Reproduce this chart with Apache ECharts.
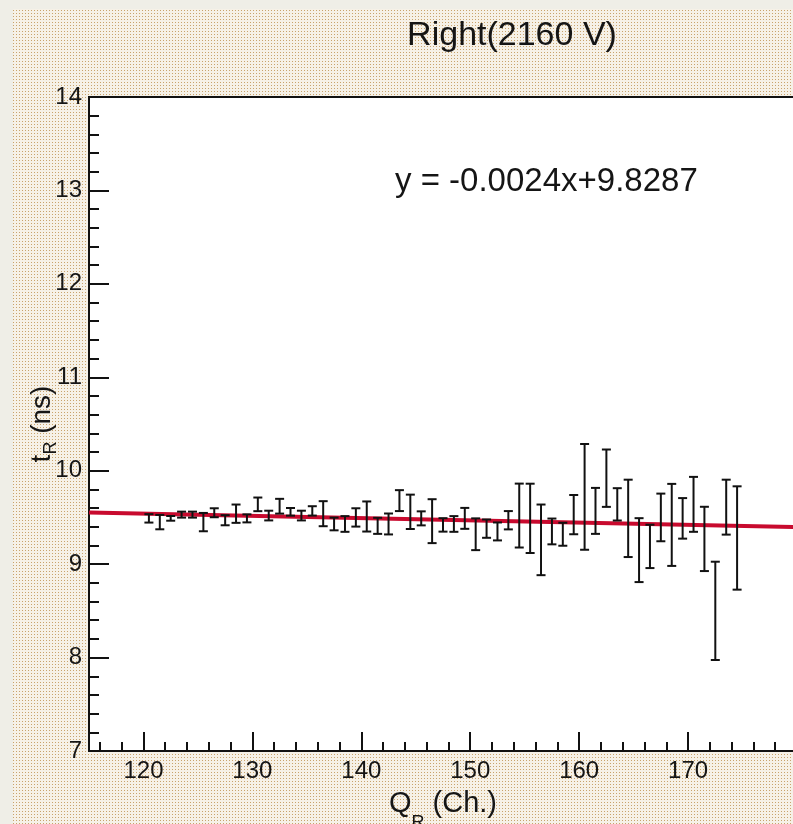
<!DOCTYPE html>
<html>
<head>
<meta charset="utf-8">
<script src="https://cdn.jsdelivr.net/npm/echarts@6/dist/echarts.min.js"></script>
<style>
  html, body { margin: 0; padding: 0; background: #efeee7; }
  #chart { width: 793px; height: 824px; }
</style>
</head>
<body>
<div id="chart"></div>
<script>
// bin centres (Q_R, channels)
const qValues = [
  120.5, 121.5, 122.5, 123.5, 124.5, 125.5, 126.5, 127.5, 128.5, 129.5,
  130.5, 131.5, 132.5, 133.5, 134.5, 135.5, 136.5, 137.5, 138.5, 139.5,
  140.5, 141.5, 142.5, 143.5, 144.5, 145.5, 146.5, 147.5, 148.5, 149.5,
  150.5, 151.5, 152.5, 153.5, 154.5, 155.5, 156.5, 157.5, 158.5, 159.5,
  160.5, 161.5, 162.5, 163.5, 164.5, 165.5, 166.5, 167.5, 168.5, 169.5,
  170.5, 171.5, 172.5, 173.5, 174.5
]
// mean time t_R (ns)
const tValues = [
  9.49, 9.45, 9.49, 9.53, 9.53, 9.45, 9.55, 9.47, 9.54, 9.49,
  9.64, 9.52, 9.62, 9.56, 9.52, 9.57, 9.54, 9.43, 9.43, 9.50,
  9.51, 9.41, 9.43, 9.68, 9.56, 9.49, 9.46, 9.42, 9.43, 9.49,
  9.32, 9.38, 9.35, 9.47, 9.52, 9.49, 9.26, 9.35, 9.32, 9.53,
  9.72, 9.57, 9.92, 9.64, 9.49, 9.15, 9.19, 9.50, 9.42, 9.49,
  9.64, 9.27, 8.50, 9.61, 9.28
]
// error on t_R (ns)
const tErrors = [
  0.045, 0.077, 0.025, 0.032, 0.032, 0.098, 0.048, 0.054, 0.098, 0.043,
  0.073, 0.052, 0.079, 0.041, 0.052, 0.050, 0.134, 0.068, 0.084, 0.098,
  0.161, 0.086, 0.112, 0.112, 0.184, 0.075, 0.235, 0.072, 0.084, 0.112,
  0.170, 0.098, 0.096, 0.098, 0.342, 0.371, 0.378, 0.138, 0.123, 0.210,
  0.566, 0.246, 0.307, 0.173, 0.414, 0.342, 0.232, 0.255, 0.439, 0.217,
  0.294, 0.344, 0.526, 0.294, 0.553
]
const fitSlope = -0.0024
const fitIntercept = 9.8287
const xRange = [115, 180]
const xMajorTicks = [120, 130, 140, 150, 160, 170]
const xMinorTicks = [116, 118, 122, 124, 126, 128, 132, 134, 136, 138, 142, 144, 146, 148,
  152, 154, 156, 158, 162, 164, 166, 168, 172, 174, 176, 178]

const FONT = 'Liberation Sans, Arial, sans-serif'
const INK = '#151515'

// ROOT-like dotted canvas fill
const tile = document.createElement('canvas')
tile.width = 3
tile.height = 3
const tctx = tile.getContext('2d')
tctx.fillStyle = '#f6f1e7'
tctx.fillRect(0, 0, 3, 3)
tctx.fillStyle = '#c8a36c'
tctx.fillRect(1, 1, 1, 1)

const chartObj = echarts.init(document.getElementById('chart'))

const fitLine = xRange.map((x) => [x, fitSlope * x + fitIntercept])

chartObj.setOption({
  animation: false,
  graphic: [
    {
      type: 'rect',
      z: -100,
      silent: true,
      shape: { x: 13, y: 9, width: 780, height: 815 },
      style: { fill: { image: tile, repeat: 'repeat' } }
    },
    {
      type: 'text',
      z: 100,
      style: {
        x: 512, y: 36, text: 'Right(2160 V)', fill: INK,
        font: '34px ' + FONT, textAlign: 'center', textVerticalAlign: 'middle'
      }
    },
    {
      type: 'text',
      z: 100,
      style: {
        x: 395, y: 182, text: 'y = -0.0024x+9.8287', fill: INK,
        font: '33px ' + FONT, textAlign: 'left', textVerticalAlign: 'middle'
      }
    }
  ],
  grid: {
    left: 89,
    top: 97,
    right: -4,
    bottom: 73,
    outerBoundsMode: 'none',
    containLabel: false,
    show: true,
    backgroundColor: '#fff',
    borderColor: '#111',
    borderWidth: 2
  },
  xAxis: [
    {
      type: 'value',
      min: xRange[0],
      max: xRange[1],
      name: '{a|Q}{s|R}{a| (Ch.)}',
      nameLocation: 'middle',
      nameGap: 25,
      nameMoveOverlap: false,
      nameTextStyle: {
        rich: {
          a: { fontSize: 29, fontFamily: FONT, color: INK, lineHeight: 56 },
          s: { fontSize: 18, fontFamily: FONT, color: INK, lineHeight: 17, verticalAlign: 'bottom' }
        }
      },
      splitLine: { show: false },
      axisLine: { lineStyle: { color: '#111', width: 2 } },
      axisTick: { inside: true, length: 19, lineStyle: { color: '#111', width: 2 }, customValues: xMajorTicks },
      axisLabel: { customValues: xMajorTicks, fontSize: 24, fontFamily: FONT, color: INK, margin: 8 }
    },
    {
      type: 'value',
      min: xRange[0],
      max: xRange[1],
      position: 'bottom',
      splitLine: { show: false },
      axisLine: { show: false },
      axisTick: { inside: true, length: 9, lineStyle: { color: '#111', width: 2 }, customValues: xMinorTicks },
      axisLabel: { show: false }
    }
  ],
  yAxis: {
    type: 'value',
    min: 7,
    max: 14,
    interval: 1,
    name: '{a|t}{s|R}{a| (ns)}',
    nameLocation: 'middle',
    nameRotate: 90,
    nameGap: 29,
    nameMoveOverlap: false,
    nameTextStyle: {
      rich: {
        a: { fontSize: 28, fontFamily: FONT, color: INK, lineHeight: 36 },
        s: { fontSize: 18, fontFamily: FONT, color: INK, lineHeight: 17, verticalAlign: 'bottom' }
      }
    },
    splitLine: { show: false },
    axisLine: { show: true, lineStyle: { color: '#111', width: 2 } },
    axisTick: { inside: true, length: 20, lineStyle: { color: '#111', width: 2 } },
    minorTick: { show: true, splitNumber: 5, length: 10, lineStyle: { color: '#111', width: 2 } },
    axisLabel: { fontSize: 24, fontFamily: FONT, color: INK, margin: 7 }
  },
  series: [
    {
      type: 'line',
      data: fitLine,
      symbol: 'none',
      z: 3,
      lineStyle: { color: '#c80a2e', width: 4 }
    },
    {
      type: 'custom',
      z: 4,
      data: qValues.map((q, i) => [q, tValues[i], tErrors[i]]),
      renderItem: function (params, api) {
        const x = api.value(0)
        const y = api.value(1)
        const e = api.value(2)
        const top = api.coord([x, y + e])
        const bot = api.coord([x, y - e])
        const hw = 4.5
        const st = { stroke: '#111', lineWidth: 2 }
        return {
          type: 'group',
          children: [
            { type: 'line', shape: { x1: top[0], y1: top[1], x2: bot[0], y2: bot[1] }, style: st },
            { type: 'line', shape: { x1: top[0] - hw, y1: top[1], x2: top[0] + hw, y2: top[1] }, style: st },
            { type: 'line', shape: { x1: bot[0] - hw, y1: bot[1], x2: bot[0] + hw, y2: bot[1] }, style: st }
          ]
        }
      }
    }
  ]
})
</script>
</body>
</html>
